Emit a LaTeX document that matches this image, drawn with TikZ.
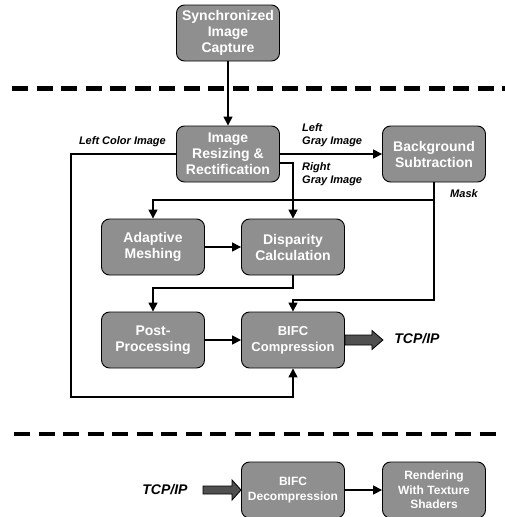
\documentclass[tikz,border=0pt]{standalone}
\usepackage{fontspec}
\setmainfont{Liberation Sans}
\usetikzlibrary{arrows.meta}
\definecolor{boxgray}{HTML}{8F8F8F}
\definecolor{fatgray}{HTML}{505050}

\begin{document}
\begin{tikzpicture}[x=1pt, y=-1pt, >={Triangle[length=9pt,width=9pt]},
    stage/.style={draw=black, line width=0.9pt, rounded corners=8pt, fill=boxgray,
        text=white, align=center, minimum width=103pt, minimum height=56pt,
        inner sep=0pt, font=\fontsize{14}{16}\selectfont\bfseries},
    small/.style={font=\fontsize{12}{14.5}\selectfont\bfseries},
    flow/.style={line width=1.5pt},
    lbl/.style={font=\fontsize{11}{13}\selectfont\bfseries\itshape, inner sep=0pt},
    net/.style={font=\fontsize{14}{16}\selectfont\bfseries\itshape, inner sep=0pt},
    fat/.style={draw=black, line width=0.8pt, fill=fatgray, line join=miter},
    sep/.style={line width=4.5pt, dash pattern=on 16pt off 8.5pt}]
    \useasboundingbox (0,0) rectangle (505,517);

    % Capture
    \node[stage] (capture) at (228,33) {Synchronized\\Image\\Capture};
    \draw[sep] (12,88.5) -- (505,88.5);

    % Server side
    \node[stage] (resize) at (228,154) {Image\\Resizing \&\\Rectification};
    \node[stage] (bgsub) at (434,154) {Background\\Subtraction};
    \node[stage] (mesh) at (153,247) {Adaptive\\Meshing};
    \node[stage] (disp) at (293,247) {Disparity\\Calculation};
    \node[stage] (post) at (153,340) {Post-\\Processing};
    \node[stage, font=\fontsize{13}{16}\selectfont\bfseries] (comp) at (293,340) {BIFC\\Compression};

    \node[lbl, anchor=east] (lcolor) at (166,142) {Left Color Image};
    \node[lbl, anchor=west, align=left] (lgray) at (302,135.5) {Left\\Gray Image};
    \node[lbl, anchor=west, align=left] (rgray) at (302,174.5) {Right\\Gray Image};
    \node[lbl] (masklbl) at (464,194) {Mask};
    \node[net] (tcpout) at (417,339) {TCP/IP};

    \coordinate (lc) at (71,397);
    \coordinate (mask) at (434,200);
    \coordinate (maskdn) at (434,300);
    \coordinate (dp) at (153,288);

    \draw[flow, ->] (capture) -- (resize);
    \draw[flow, ->] (resize.west) -| (lc) -| (comp.south);
    \draw[flow, ->] (resize.east) -- (bgsub.west);
    \draw[flow, ->] ([yshift=-9pt]resize.east) -| (disp.north);
    \draw[flow, ->] (bgsub.south) -- (mask) -| (mesh.north);
    \draw[flow, ->] (mask) -- (maskdn) -| (comp.north);
    \draw[flow, ->] (mesh) -- (disp);
    \draw[flow, ->] (disp.south) |- (dp) -- (post.north);
    \draw[flow, ->] (post) -- (comp);
    \draw[fat] (comp.east) ++(0,-5) -- ++(27,0) -- ++(0,-4.5) -- ++(11,9.5)
        -- ++(-11,9.5) -- ++(0,-4.5) -- ++(-27,0) -- cycle;

    \draw[sep] (14,434) -- (497,434);

    % Client side
    \node[stage, small] (decomp) at (293,490) {BIFC\\Decompression};
    \node[stage, small] (render) at (434,490) {Rendering\\With Texture\\Shaders};
    \node[net] (tcpin) at (165,490) {TCP/IP};

    \draw[fat] (decomp.west) ++(-38,-4) -- ++(29,0) -- ++(0,-6) -- ++(9,10)
        -- ++(-9,10) -- ++(0,-6) -- ++(-29,0) -- cycle;
    \draw[flow, ->] (decomp) -- (render);
\end{tikzpicture}
\end{document}
